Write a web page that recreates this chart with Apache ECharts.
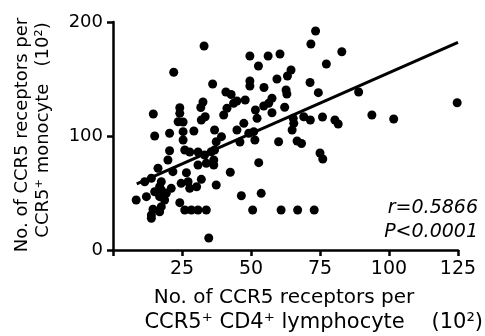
<!DOCTYPE html>
<html><head><meta charset="utf-8">
<script src="https://cdn.jsdelivr.net/npm/echarts@6/dist/echarts.min.js"></script>
<style>html,body{margin:0;padding:0;background:#fff}#c{width:485px;height:336px}</style>
</head><body><div id="c"></div>
<script>
const xVals = [33.0,73.4,71.7,82.9,49.6,56.2,60.5,52.7,77.3,63.2,64.5,59.4,49.6,49.6,36.1,54.7,62.7,63.0,71.4,74.4,40.9,42.8,89.0,93.8,101.7,124.7,22.0,14.6,32.6,31.8,33.4,32.0,24.2,24.2,23.6,25.4,25.4,25.4,26.0,29.3,15.1,20.5,20.5,36.8,37.4,36.8,27.8,30.8,19.9,33.2,35.6,16.3,21.7,26.6,30.8,33.8,11.5,13.9,17.5,16.9,24.7,27.2,27.8,32.0,37.4,15.1,17.5,19.3,21.1,12.1,8.4,16.9,18.7,24.2,26.0,28.4,30.8,33.8,14.5,17.5,16.9,13.9,13.9,34.7,44.9,47.9,43.7,41.3,40.1,57.6,56.4,54.6,51.6,52.2,62.2,57.6,47.4,44.9,51.0,49.2,39.3,65.5,64.9,69.1,60.0,66.7,68.3,71.5,75.9,80.4,81.6,36.5,36.5,42.5,52.8,46.5,53.7,50.6,60.9,66.9,72.9,75.0,76.0,46.0,51.4,65.3,30.3];
const yVals = [178.9,192.1,180.7,173.9,170.2,170.2,171.9,161.4,163.2,152.6,157.9,150.0,148.2,143.9,145.6,142.5,140.4,136.8,146.9,138.0,138.6,136.4,138.6,118.4,114.9,129.2,155.9,119.3,129.8,125.0,116.9,114.0,124.8,119.9,112.5,112.3,103.8,96.5,87.7,104.4,100.0,102.4,87.1,105.3,95.0,87.7,86.0,86.0,78.9,83.3,86.2,71.7,68.7,67.8,74.6,76.1,59.9,62.9,59.9,55.5,58.5,59.9,54.1,62.0,57.0,51.1,52.6,49.7,54.1,46.8,43.9,46.8,43.9,41.5,35.1,35.1,35.1,35.1,35.7,38.0,33.6,30.7,27.8,10.5,130.7,131.6,128.7,124.3,118.4,133.1,128.7,126.3,122.8,115.5,125.2,120.4,111.1,105.3,103.8,102.4,99.4,111.1,105.3,116.9,95.0,95.6,93.4,114.0,116.7,114.0,110.5,78.9,74.6,68.2,76.6,47.6,49.7,35.1,35.1,35.1,35.1,85.1,79.8,94.7,96.5,115.5,55.5];
const fitX = [8.6, 125];
const fitY = [57.9, 182.2];
const xTicks = [25, 50, 75, 100, 125];
const yTicks = [0, 100, 200];
const statR = 'r=0.5866';
const statP = 'P<0.0001';

const pts = xVals.map((x, i) => [x, yVals[i]]);
const fit = fitX.map((x, i) => [x, fitY[i]]);
const FONT = 'DejaVu Sans';
const chart = echarts.init(document.getElementById('c'), null, {renderer: 'canvas'});
chart.setOption({
  animation: false,
  grid: {left: 113, right: 27, top: 22, bottom: 86},
  xAxis: {
    type: 'value', min: 0, max: 125, interval: 25,
    splitLine: {show: false},
    axisLine: {lineStyle: {color: '#000', width: 2.5}},
    axisTick: {length: 6, lineStyle: {color: '#000', width: 2.5}},
    axisLabel: {color: '#000', fontFamily: FONT, fontSize: 19, margin: 10,
      formatter: v => xTicks.includes(v) ? String(v) : ''}
  },
  yAxis: {
    type: 'value', min: 0, max: 200, interval: 100,
    splitLine: {show: false},
    axisLine: {show: true, lineStyle: {color: '#000', width: 2.5}},
    axisTick: {show: true, length: 6, lineStyle: {color: '#000', width: 2.5}},
    axisLabel: {color: '#000', fontFamily: FONT, fontSize: 18, margin: 10,
      formatter: v => yTicks.includes(v) ? String(v) : ''}
  },
  series: [
    {type: 'scatter', data: pts, symbolSize: 9, itemStyle: {color: '#000', opacity: 1}, z: 3},
    {type: 'line', data: fit, symbol: 'none', lineStyle: {color: '#000', width: 3}, z: 4}
  ],
  graphic: [
    {type: 'text', x: 478, y: 208, style: {text: statR, font: 'italic 19px "DejaVu Sans"', fill: '#000', textAlign: 'right', textVerticalAlign: 'middle'}},
    {type: 'text', x: 478, y: 232, style: {text: statP, font: 'italic 19px "DejaVu Sans"', fill: '#000', textAlign: 'right', textVerticalAlign: 'middle'}},
    {type: 'text', x: 284, y: 298, style: {text: 'No. of CCR5 receptors per', font: '20px "DejaVu Sans"', fill: '#000', textAlign: 'center', textVerticalAlign: 'middle'}},
    {type: 'text', x: 483, y: 323, style: {text: 'CCR5\u207A CD4\u207A lymphocyte    (10\u00B2)', font: '21px "DejaVu Sans"', fill: '#000', textAlign: 'right', textVerticalAlign: 'middle'}},
    {type: 'text', x: 22, y: 135, rotation: Math.PI / 2, style: {text: 'No. of CCR5 receptors per', font: '18px "DejaVu Sans"', fill: '#000', textAlign: 'center', textVerticalAlign: 'middle'}},
    {type: 'text', x: 43, y: 130, rotation: Math.PI / 2, style: {text: 'CCR5\u207A monocyte   (10\u00B2)', font: '18px "DejaVu Sans"', fill: '#000', textAlign: 'center', textVerticalAlign: 'middle'}}
  ]
});
</script></body></html>
